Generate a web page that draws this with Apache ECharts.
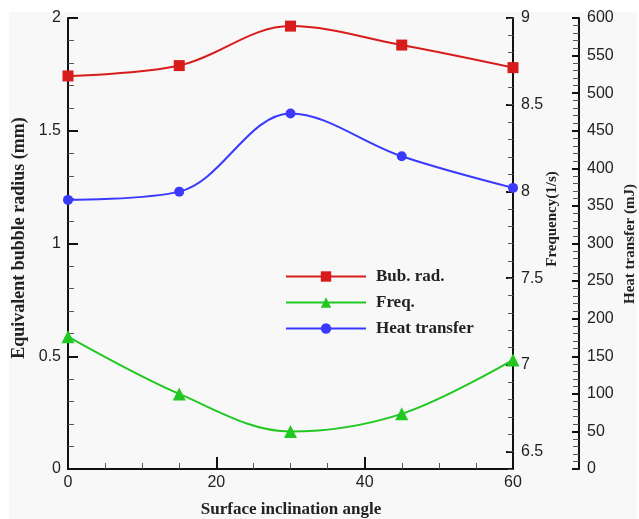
<!DOCTYPE html>
<html>
<head>
<meta charset="utf-8">
<script src="https://cdn.jsdelivr.net/npm/echarts@6/dist/echarts.min.js"></script>
<style>
  html, body { margin: 0; padding: 0; background: #fff; }
  #chart { width: 639px; height: 519px; }
</style>
</head>
<body>
<div id="chart"></div>
<script>
// surface inclination angle (deg)
var angles = [0, 15, 30, 45, 60];
// equivalent bubble radius (mm)
var bubRadius = [1.743, 1.789, 1.964, 1.880, 1.780];
// bubble frequency (1/s)
var freq = [7.163, 6.833, 6.616, 6.718, 7.029];
// heat transfer (mJ)
var heat = [358, 369, 473, 416, 374];
var freqTicks = [6.5, 7, 7.5, 8, 8.5, 9];

function pairs(xs, ys) {
  var out = [];
  for (var i = 0; i < xs.length; i++) out.push([xs[i], ys[i]]);
  return out;
}

var labelFont = { fontFamily: 'Liberation Sans', fontSize: 16, color: '#222' };
var titleFont = 'Liberation Serif';
var axisLineStyle = { color: '#111', width: 2 };

var chart = echarts.init(document.getElementById('chart'));
var option = {
  animation: false,
  backgroundColor: '#fff',
  grid: { left: 68, right: 126, top: 18, bottom: 50, containLabel: false },
  graphic: [
    { type: 'rect', z: -10, shape: { x: 9, y: 12, width: 628, height: 507 }, style: { fill: '#f8f8f8' } },
    { type: 'text', rotation: Math.PI / 2, x: 19, y: 238,
      style: { text: 'Equivalent bubble radius (mm)', font: 'bold 18px ' + titleFont, fill: '#222', textAlign: 'center', textVerticalAlign: 'middle' } },
    { type: 'text', rotation: Math.PI / 2, x: 552, y: 219,
      style: { text: 'Frequency(1/s)', font: 'bold 15px ' + titleFont, fill: '#222', textAlign: 'center', textVerticalAlign: 'middle' } },
    { type: 'text', rotation: Math.PI / 2, x: 630, y: 244,
      style: { text: 'Heat transfer (mJ)', font: 'bold 15px ' + titleFont, fill: '#222', textAlign: 'center', textVerticalAlign: 'middle' } },
    { type: 'text', x: 291, y: 510,
      style: { text: 'Surface inclination angle', font: 'bold 17px ' + titleFont, fill: '#222', textAlign: 'center', textVerticalAlign: 'middle' } }
  ],
  legend: {
    orient: 'vertical',
    left: 280,
    top: 263,
    itemWidth: 80,
    itemHeight: 13,
    itemGap: 9,
    textStyle: { fontFamily: titleFont, fontWeight: 'bold', fontSize: 17, color: '#222', padding: [0, 0, 0, 5] },
    data: ['Bub. rad.', 'Freq.', 'Heat transfer']
  },
  xAxis: {
    type: 'value',
    min: 0, max: 60, interval: 20,
    axisLine: { show: true, onZero: false, lineStyle: axisLineStyle },
    axisTick: { show: true, inside: true, length: 12, lineStyle: { color: '#111', width: 2 } },
    minorTick: { show: true, splitNumber: 4, length: 6, lineStyle: { color: '#555', width: 1 } },
    axisLabel: Object.assign({ margin: 6 }, labelFont),
    splitLine: { show: false }
  },
  yAxis: [
    {
      type: 'value', position: 'left',
      min: 0, max: 2, interval: 0.5,
      axisLine: { show: true, lineStyle: axisLineStyle },
      axisTick: { show: true, inside: true, length: 10, lineStyle: { color: '#111', width: 2 } },
      minorTick: { show: true, splitNumber: 5, length: 6, lineStyle: { color: '#555', width: 1 } },
      axisLabel: Object.assign({ margin: 7 }, labelFont),
      splitLine: { show: false }
    },
    {
      type: 'value', position: 'right',
      min: 6.4, max: 9,
      axisLine: { show: true, lineStyle: axisLineStyle },
      axisTick: { show: true, inside: true, length: 7, customValues: freqTicks, lineStyle: { color: '#111', width: 2 } },
      axisLabel: Object.assign({ margin: 8, customValues: freqTicks }, labelFont),
      splitLine: { show: false }
    },
    {
      type: 'value', position: 'right', offset: 66,
      min: 0, max: 600, interval: 50,
      axisLine: { show: true, lineStyle: axisLineStyle },
      axisTick: { show: true, inside: true, length: 7, lineStyle: { color: '#111', width: 2 } },
      minorTick: { show: true, splitNumber: 5, length: 6, lineStyle: { color: '#555', width: 1 } },
      axisLabel: Object.assign({ margin: 8 }, labelFont),
      splitLine: { show: false }
    },
    {
      // minor ticks of the frequency axis
      type: 'value', position: 'right',
      min: 6.4, max: 9, interval: 0.1,
      axisLine: { show: false },
      axisTick: { show: true, inside: true, length: 5, lineStyle: { color: '#555', width: 1 } },
      axisLabel: { show: false },
      splitLine: { show: false }
    }
  ],
  series: [
    {
      name: 'Bub. rad.', type: 'line', yAxisIndex: 0, smooth: 0.35,
      symbol: 'rect', symbolSize: 11,
      color: '#d81c1c',
      lineStyle: { width: 2 },
      data: pairs(angles, bubRadius)
    },
    {
      name: 'Freq.', type: 'line', yAxisIndex: 1, smooth: 0.35,
      symbol: 'triangle', symbolSize: 13,
      color: '#22c822',
      lineStyle: { width: 2 },
      data: pairs(angles, freq)
    },
    {
      name: 'Heat transfer', type: 'line', yAxisIndex: 2, smooth: 0.35,
      symbol: 'circle', symbolSize: 10,
      color: '#3a3aff',
      lineStyle: { width: 2 },
      data: pairs(angles, heat)
    }
  ]
};
chart.setOption(option);
</script>
</body>
</html>
